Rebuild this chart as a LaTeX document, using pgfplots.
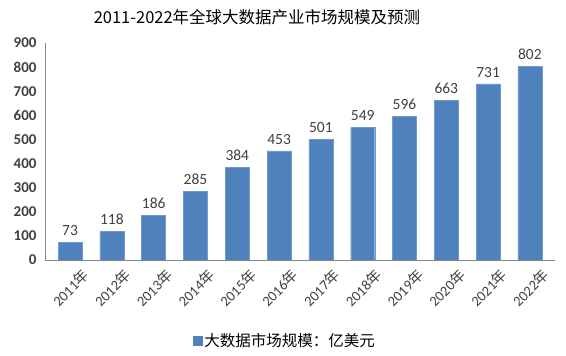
\documentclass[border=0pt]{standalone}
\usepackage{pgfplots}
\pgfplotsset{compat=1.18}
\usepackage{fontspec}
\setmainfont{Carlito}
\newfontfamily\cjk{Noto Sans CJK SC}
\definecolor{barblue}{HTML}{4F81BD}
\definecolor{axgray}{HTML}{868686}
\definecolor{txt}{HTML}{404040}
\begin{document}
\begin{tikzpicture}
\useasboundingbox (-45pt,-96pt) rectangle (521pt,260pt);
\begin{axis}[
  at={(0,0)}, anchor=south west,
  scale only axis, width=510pt, height=217pt,
  xmin=-0.6, xmax=11.6, ymin=0, ymax=900,
  ytick={0,100,...,900},
  xtick={0,...,11},
  xticklabels={2011{\cjk 年},2012{\cjk 年},2013{\cjk 年},2014{\cjk 年},2015{\cjk 年},2016{\cjk 年},2017{\cjk 年},2018{\cjk 年},2019{\cjk 年},2020{\cjk 年},2021{\cjk 年},2022{\cjk 年}},
  /pgf/number format/assume math mode=true,
  axis x line*=bottom, axis y line*=left,
  axis line style={axgray, line width=0.8pt},
  x axis line style={-}, y axis line style={-},
  major tick length=0pt,
  yticklabel style={font=\fontsize{15}{17}\selectfont\bfseries, text=txt, xshift=-5pt},
  xticklabel style={font=\fontsize{14.5}{17}\selectfont, text=txt, rotate=45, anchor=north east, xshift=6pt, yshift=-10pt},
  legend style={at={(0.284,-0.37)}, anchor=west, draw=none, fill=none, font=\cjk\fontsize{15.5}{17}\selectfont, text=black},
  legend image code/.code={\fill[barblue] (0pt,-4.5pt) rectangle (9pt,4.5pt);},
  nodes near coords,
  nodes near coords style={font=\fontsize{15.5}{17}\selectfont, text=txt, yshift=3pt},
]
\addplot[ybar, bar width=24pt, fill=barblue, draw=barblue!80!white] coordinates {
(0,73) (1,118) (2,186) (3,285) (4,384) (5,453) (6,501) (7,549) (8,596) (9,663) (10,731) (11,802)};
\addlegendentry{大数据市场规模：亿美元}
\end{axis}
\node[font=\cjk\fontsize{16.5}{18}\selectfont, text=black] at (212pt,243pt) {2011-2022年全球大数据产业市场规模及预测};
\end{tikzpicture}
\end{document}
